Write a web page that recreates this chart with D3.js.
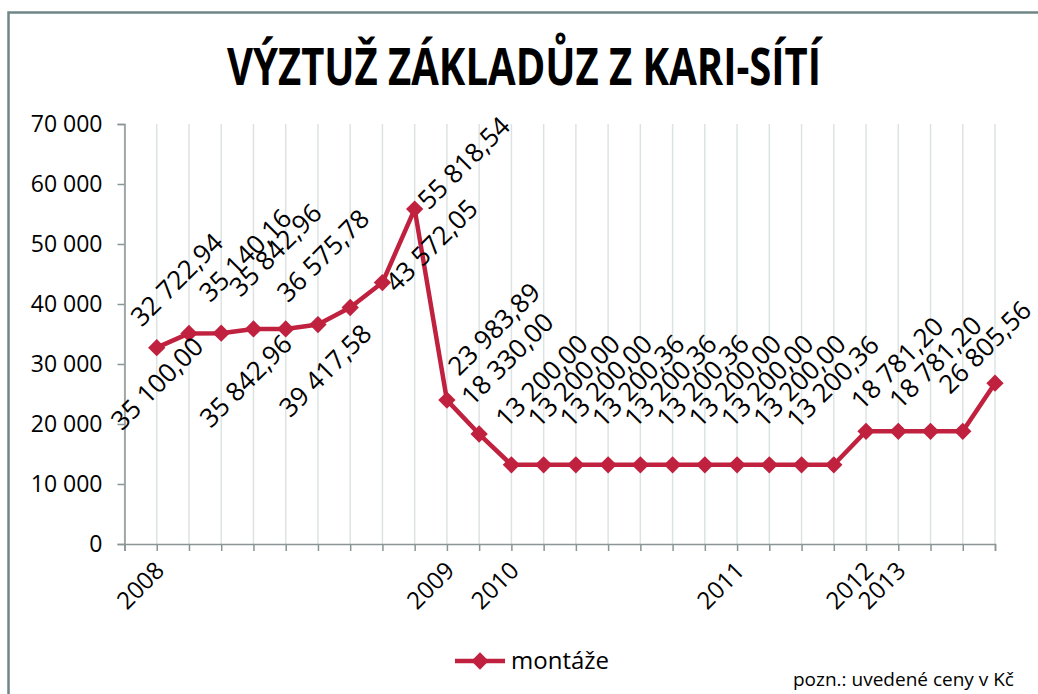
<!DOCTYPE html>
<html>
<head>
<meta charset="utf-8">
<script src="https://cdn.jsdelivr.net/npm/d3@7/dist/d3.min.js"></script>
<style>
	body { margin: 0; background: #fff; }
	svg { display: block; font-family: "Open Sans", "Noto Sans", sans-serif; }
</style>
</head>
<body>
<svg id="chart" width="1038" height="694"></svg>
<script>
"use strict";

// chart data
var title = 'VÝZTUŽ ZÁKLADŮZ Z KARI-SÍTÍ';
var seriesName = 'montáže';
var note = 'pozn.: uvedené ceny v Kč';

var values = [32722.94, 35100.00, 35140.16, 35842.96, 35842.96, 36575.78, 39417.58, 43572.05,
	55818.54, 23983.89, 18330.00, 13200.00, 13200.00, 13200.00, 13200.36, 13200.36, 13200.36,
	13200.00, 13200.00, 13200.00, 13200.36, 13200.36, 18781.20, 18781.20, 18781.20, 18781.20,
	26805.56];

var categories = ['2008', '', '', '', '', '', '', '', '', '2009', '', '2010', '', '', '', '', '',
	'', '2011', '', '', '', '2012', '2013', '', '', ''];

// which points carry a visible value label
var labelShown = [1, 1, 1, 1, 1, 1, 1, 1, 1, 1, 1, 1, 1, 1, 1, 1, 1, 1, 1, 1, 1, 0, 1, 1, 0, 0, 1];

var yTicks = [0, 10000, 20000, 30000, 40000, 50000, 60000, 70000];

// label nudges relative to the point (baseline start of the rotated text)
var labelNudge = [[-15, -20], [-67, 98], [-11, -30], [-13, -31], [-75, 100], [-30, -21], [-60, 111],
	[14, 11], [14, 2], [12, -23], [-7, -27], [-5, -36], [-5, -36], [-5, -36], [-5, -36], [-5, -36],
	[-5, -36], [-5, -36], [-5, -36], [-5, -36], [-4, -35], [0, 0], [-4, -20], [2, -21], [0, 0], [0, 0],
	[-45, 12]];

var red = '#bf213f';

var svg = d3.select('#chart');

// outer frame
svg.append('rect')
	.attr('x', 8.5).attr('y', 12.5)
	.attr('width', 1100).attr('height', 800)
	.attr('fill', 'none')
	.attr('stroke', '#708686')
	.attr('stroke-width', 2.5);

// title
svg.append('text')
	.attr('x', 524).attr('y', 85)
	.attr('text-anchor', 'middle')
	.attr('font-size', 52)
	.attr('font-weight', 700)
	.attr('textLength', 594)
	.attr('lengthAdjust', 'spacingAndGlyphs')
	.text(title);

var plot = {left: 124.5, right: 995, top: 124, bottom: 544};

var x = d3.scaleLinear()
	.domain([-1, values.length - 1])
	.range([plot.left, plot.right]);

var y = d3.scaleLinear()
	.domain([0, 70000])
	.range([plot.bottom, plot.top]);

var numFmt = d3.formatLocale({decimal: ',', thousands: ' ', grouping: [3], currency: ['', ' Kč']});
var axisFmt = numFmt.format(',.0f');
var labelFmt = numFmt.format(',.2f');

//vertical gridlines at every category boundary
svg.append('g')
	.selectAll('line')
	.data(d3.range(-1, values.length))
	.enter().append('line')
	.attr('x1', function(d) { return x(d); })
	.attr('x2', function(d) { return x(d); })
	.attr('y1', plot.top)
	.attr('y2', plot.bottom)
	.attr('stroke', '#dde3e3')
	.attr('stroke-width', 1.5);

// y axis
var yAxis = svg.append('g')
	.attr('transform', 'translate(' + plot.left + ',0)')
	.call(d3.axisLeft(y).tickValues(yTicks).tickSize(7).tickPadding(15).tickFormat(axisFmt));
yAxis.select('.domain').attr('stroke', '#8a9595').attr('stroke-width', 1.5);
yAxis.selectAll('.tick line').attr('stroke', '#8a9595').attr('stroke-width', 1.5);
yAxis.selectAll('.tick text')
	.attr('font-size', 23)
	.attr('font-family', '"Open Sans", sans-serif')
	.attr('fill', '#000');

// x axis
var xAxis = svg.append('g')
	.attr('transform', 'translate(0,' + plot.bottom + ')')
	.call(d3.axisBottom(x).tickValues(d3.range(-1, values.length)).tickSize(7).tickFormat(''));
xAxis.select('.domain').attr('stroke', '#8a9595').attr('stroke-width', 1.5);
xAxis.selectAll('.tick line').attr('stroke', '#8a9595').attr('stroke-width', 1.5);

// year labels, rotated
svg.append('g')
	.selectAll('text')
	.data(categories)
	.enter().append('text')
	.attr('transform', function(d, i) {
		return 'translate(' + (x(i) + 9) + ',' + (plot.bottom + 28) + ') rotate(-45)';
	})
	.attr('text-anchor', 'end')
	.attr('font-size', 24)
	.attr('fill', '#000')
	.text(function(d) { return d; });

// series line
var line = d3.line()
	.x(function(d, i) { return x(i); })
	.y(function(d) { return y(d); });

svg.append('path')
	.datum(values)
	.attr('d', line)
	.attr('fill', 'none')
	.attr('stroke', red)
	.attr('stroke-width', 4.5)
	.attr('stroke-linejoin', 'round');

var diamond = d3.symbol().type(d3.symbolSquare).size(150);

svg.append('g')
	.selectAll('path')
	.data(values)
	.enter().append('path')
	.attr('d', diamond)
	.attr('transform', function(d, i) {
		return 'translate(' + x(i) + ',' + y(d) + ') rotate(45)';
	})
	.attr('fill', red);

// value labels
var labelData = values.map(function(v, i) { return {v: v, i: i}; })
	.filter(function(d) { return labelShown[d.i]; });

svg.append('g')
	.selectAll('text')
	.data(labelData)
	.enter().append('text')
	.attr('transform', function(d) {
		var n = labelNudge[d.i];
		return 'translate(' + (x(d.i) + n[0]) + ',' + (y(d.v) + n[1]) + ') rotate(-45)';
	})
	.attr('font-size', 26)
	.attr('fill', '#000')
	.text(function(d) { return labelFmt(d.v); });

// legend
var legend = svg.append('g').attr('transform', 'translate(455,661)');
legend.append('line')
	.attr('x1', 0).attr('x2', 50)
	.attr('stroke', red).attr('stroke-width', 4.5);
legend.append('path')
	.attr('d', diamond)
	.attr('transform', 'translate(25,0) rotate(45)')
	.attr('fill', red);
legend.append('text')
	.attr('x', 56).attr('y', 8)
	.attr('font-size', 24)
	.attr('fill', '#000')
	.text(seriesName);

svg.append('text')
	.attr('x', 793).attr('y', 686)
	.attr('font-size', 19)
	.attr('fill', '#000')
	.text(note);
</script>
</body>
</html>
